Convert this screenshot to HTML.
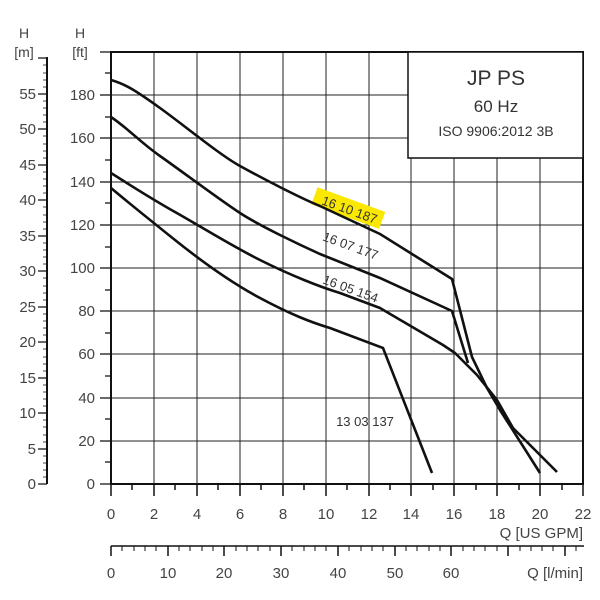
<!DOCTYPE html>
<html><head><style>body{margin:0;background:#fff}svg{display:block;font-family:"Liberation Sans",sans-serif}</style></head><body>
<svg width="600" height="600" viewBox="0 0 600 600">
<g stroke="#222" stroke-width="1" fill="none">
<path d="M154 52V484M197 52V484M240 52V484M283 52V484M326 52V484M369 52V484M411 52V484M454 52V484M497 52V484M540 52V484"/>
<path d="M111 95H583M111 138H583M111 182H583M111 225H583M111 268H583M111 311H583M111 354H583M111 398H583M111 441H583"/>
</g>
<g stroke="#111" stroke-width="2" fill="none">
<path d="M111 52H583V484H111Z"/>
<path d="M47 57V484"/>
</g>
<g stroke="#111" stroke-width="1.3">
<path d="M100 95H111M100 138H111M100 182H111M100 225H111M100 268H111M100 311H111M100 354H111M100 398H111M100 441H111M100 484H111M100 52H111"/>
<path d="M105 73H111M105 117H111M105 160H111M105 203H111M105 247H111M105 290H111M105 333H111M105 376H111M105 419H111M105 462H111"/>
<path d="M38 484H47M38 449H47M38 413H47M38 378H47M38 342H47M38 307H47M38 271H47M38 236H47M38 200H47M38 165H47M38 129H47M38 94H47M38 58H47"/>
</g>
<g stroke="#111" stroke-width="0.8">
<path d="M43 477H47M43 470H47M43 463H47M43 456H47M43 442H47M43 435H47M43 427H47M43 420H47M43 406H47M43 399H47M43 392H47M43 385H47M43 371H47M43 364H47M43 357H47M43 349H47M43 335H47M43 328H47M43 321H47M43 314H47M43 300H47M43 293H47M43 286H47M43 278H47M43 264H47M43 257H47M43 250H47M43 243H47M43 229H47M43 222H47M43 215H47M43 207H47M43 193H47M43 186H47M43 179H47M43 172H47M43 158H47M43 151H47M43 144H47M43 136H47M43 122H47M43 115H47M43 108H47M43 101H47M43 87H47M43 80H47M43 73H47M43 65H47"/>
</g>
<g fill="#444" font-size="15" text-anchor="end">
<text x="36" y="489">0</text><text x="36" y="454">5</text><text x="36" y="418">10</text><text x="36" y="383">15</text><text x="36" y="347">20</text><text x="36" y="312">25</text><text x="36" y="276">30</text><text x="36" y="241">35</text><text x="36" y="205">40</text><text x="36" y="170">45</text><text x="36" y="134">50</text><text x="36" y="99">55</text>
<text x="95" y="489">0</text><text x="95" y="446">20</text><text x="95" y="403">40</text><text x="95" y="359">60</text><text x="95" y="316">80</text><text x="95" y="273">100</text><text x="95" y="230">120</text><text x="95" y="187">140</text><text x="95" y="143">160</text><text x="95" y="100">180</text>
</g>
<g fill="#444" font-size="14" text-anchor="middle">
<text x="24" y="38">H</text><text x="24" y="57">[m]</text><text x="80" y="38">H</text><text x="80" y="57">[ft]</text>
</g>
<g stroke="#111" stroke-width="1.5">
<path d="M111 484V496M154 484V496M197 484V496M240 484V496M283 484V496M326 484V496M369 484V496M411 484V496M454 484V496M497 484V496M540 484V496M583 484V496"/>
<path d="M132 484V490M175 484V490M218 484V490M261 484V490M304 484V490M347 484V490M390 484V490M433 484V490M476 484V490M519 484V490M562 484V490"/>
<path d="M111 546H584M111 546V556M168 546V556M224 546V556M281 546V556M338 546V556M395 546V556M451 546V556M508 546V556M565 546V556"/>
</g>
<g stroke="#111" stroke-width="1">
<path d="M122 546V551M134 546V551M145 546V551M156 546V551M179 546V551M190 546V551M202 546V551M213 546V551M236 546V551M247 546V551M258 546V551M270 546V551M292 546V551M304 546V551M315 546V551M326 546V551M349 546V551M361 546V551M372 546V551M383 546V551M406 546V551M417 546V551M429 546V551M440 546V551M463 546V551M474 546V551M485 546V551M497 546V551M520 546V551M531 546V551M542 546V551M553 546V551M576 546V551"/>
</g>
<g fill="#444" font-size="15" text-anchor="middle">
<text x="111" y="519">0</text><text x="154" y="519">2</text><text x="197" y="519">4</text><text x="240" y="519">6</text><text x="283" y="519">8</text><text x="326" y="519">10</text><text x="369" y="519">12</text><text x="411" y="519">14</text><text x="454" y="519">16</text><text x="497" y="519">18</text><text x="540" y="519">20</text><text x="583" y="519">22</text>
<text x="583" y="538" text-anchor="end">Q [US GPM]</text>
<text x="111" y="578">0</text><text x="168" y="578">10</text><text x="224" y="578">20</text><text x="281" y="578">30</text><text x="338" y="578">40</text><text x="395" y="578">50</text><text x="451" y="578">60</text>
<text x="583" y="578" text-anchor="end">Q [l/min]</text>
</g>
<rect x="408" y="52" width="175" height="106" fill="#fff" stroke="#111" stroke-width="1.5"/>
<g fill="#333" text-anchor="middle">
<text x="496" y="85" font-size="21">JP PS</text>
<text x="496" y="112" font-size="17">60 Hz</text>
<text x="496" y="136" font-size="14">ISO 9906:2012 3B</text>
</g>
<g transform="translate(348,209) rotate(20)"><rect x="-36" y="-10" width="72" height="18" fill="#fbe800"/></g>
<g stroke="#111" stroke-width="2.6" fill="none" stroke-linejoin="round">
<path d="M111 80C125 84 135 90 160 108S220 155 240 166S300 198 320 206L380 234L452 279L472 357L487 388L500 410L540 473"/>
<path d="M111 117C130 130 140 142 160 156S220 200 240 213S300 245 320 254L380 278L452 311L468 363"/>
<path d="M111 173C130 185 150 198 175 212S230 245 260 260S320 287 340 293L380 308L443 345L455 353L477 375L497 400L513 428L557 472"/>
<path d="M111 188C130 204 150 220 175 240S230 282 260 298S310 322 330 328L383 348L432 473"/>
</g>
<g fill="#333" font-size="13" text-anchor="middle">
<text transform="translate(348,214) rotate(20)">16 10 187</text>
<text transform="translate(349,250) rotate(20)">16 07 177</text>
<text transform="translate(349,293) rotate(20)">16 05 154</text>
<text x="365" y="426">13 03 137</text>
</g>
</svg>
</body></html>
